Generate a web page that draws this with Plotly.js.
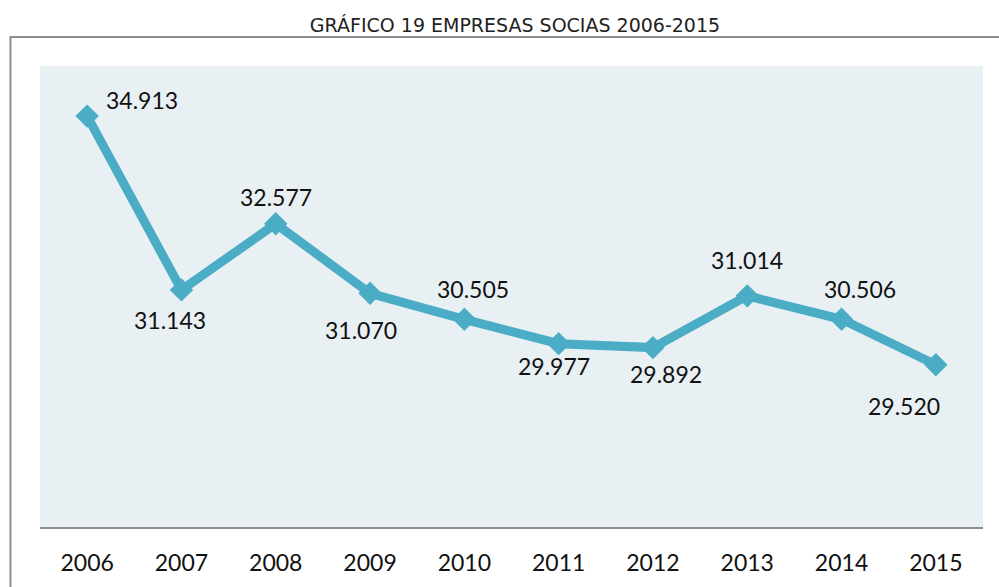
<!DOCTYPE html>
<html>
<head>
<meta charset="utf-8">
<script src="https://cdn.plot.ly/plotly-3.0.1.min.js"></script>
<style>
  html, body { margin: 0; padding: 0; background: #fff; }
  #chart { width: 999px; height: 587px; }
</style>
</head>
<body>
<div id="chart"></div>
<script>
const years = ["2006", "2007", "2008", "2009", "2010", "2011", "2012", "2013", "2014", "2015"];
const empresas = [34913, 31143, 32577, 31070, 30505, 29977, 29892, 31014, 30506, 29520];

// Label offsets (px) from each marker, as placed in the original
const labelShift = [
  [55, 16], [-11, -30], [0, 27], [-9, -37], [9, 30],
  [-5, -22], [13, -26], [0, 36], [18, 30], [-32, -41]
];

const LINE_COLOR = "#4bacc6";
const FONT = "Lato, 'Open Sans', sans-serif";

// Spanish style thousands separator: 34913 -> 34.913
const fmt = v => String(v).replace(/\B(?=(\d{3})+(?!\d))/g, ".");

const trace = {
  x: years,
  y: empresas,
  type: "scatter",
  mode: "lines+markers",
  line: { color: LINE_COLOR, width: 9 },
  marker: { symbol: "diamond", size: 18, color: LINE_COLOR },
  hoverinfo: "skip"
};

// on a category axis annotations take the category index
const annotations = years.map((yr, i) => ({
  x: i,
  y: empresas[i],
  xref: "x",
  yref: "y",
  text: fmt(empresas[i]),
  showarrow: false,
  xshift: labelShift[i][0],
  yshift: labelShift[i][1],
  font: { family: FONT, size: 23, color: "#111" }
}));

const layout = {
  width: 999,
  height: 587,
  margin: { l: 40, r: 16, t: 66, b: 60 },
  paper_bgcolor: "#ffffff",
  plot_bgcolor: "#e8f0f4",
  showlegend: false,
  title: {
    text: "GRÁFICO 19 EMPRESAS SOCIAS 2006-2015",
    x: 0.5155,
    xref: "container",
    xanchor: "center",
    y: 0.956,
    yref: "container",
    yanchor: "middle",
    font: { family: "'DejaVu Sans', sans-serif", size: 19, color: "#222" }
  },
  xaxis: {
    type: "category",
    range: [-0.5, years.length - 0.5],
    showgrid: false,
    zeroline: false,
    showline: true,
    linecolor: "#8c8c8c",
    linewidth: 2,
    ticks: "outside",
    ticklen: 14,
    tickcolor: "rgba(0,0,0,0)",
    tickfont: { family: FONT, size: 23, color: "#111" },
    fixedrange: true
  },
  yaxis: {
    range: [26000, 36000],
    visible: false,
    showgrid: false,
    zeroline: false,
    fixedrange: true
  },
  annotations: annotations,
  shapes: [{
    type: "rect",
    xref: "paper",
    yref: "paper",
    x0: -0.0313,
    x1: 1.1,
    y0: -0.4,
    y1: 1.063,
    line: { color: "#8c8c8c", width: 2 },
    fillcolor: "rgba(0,0,0,0)",
    layer: "below"
  }]
};

Plotly.newPlot("chart", [trace], layout, { staticPlot: true, displayModeBar: false });
</script>
</body>
</html>
